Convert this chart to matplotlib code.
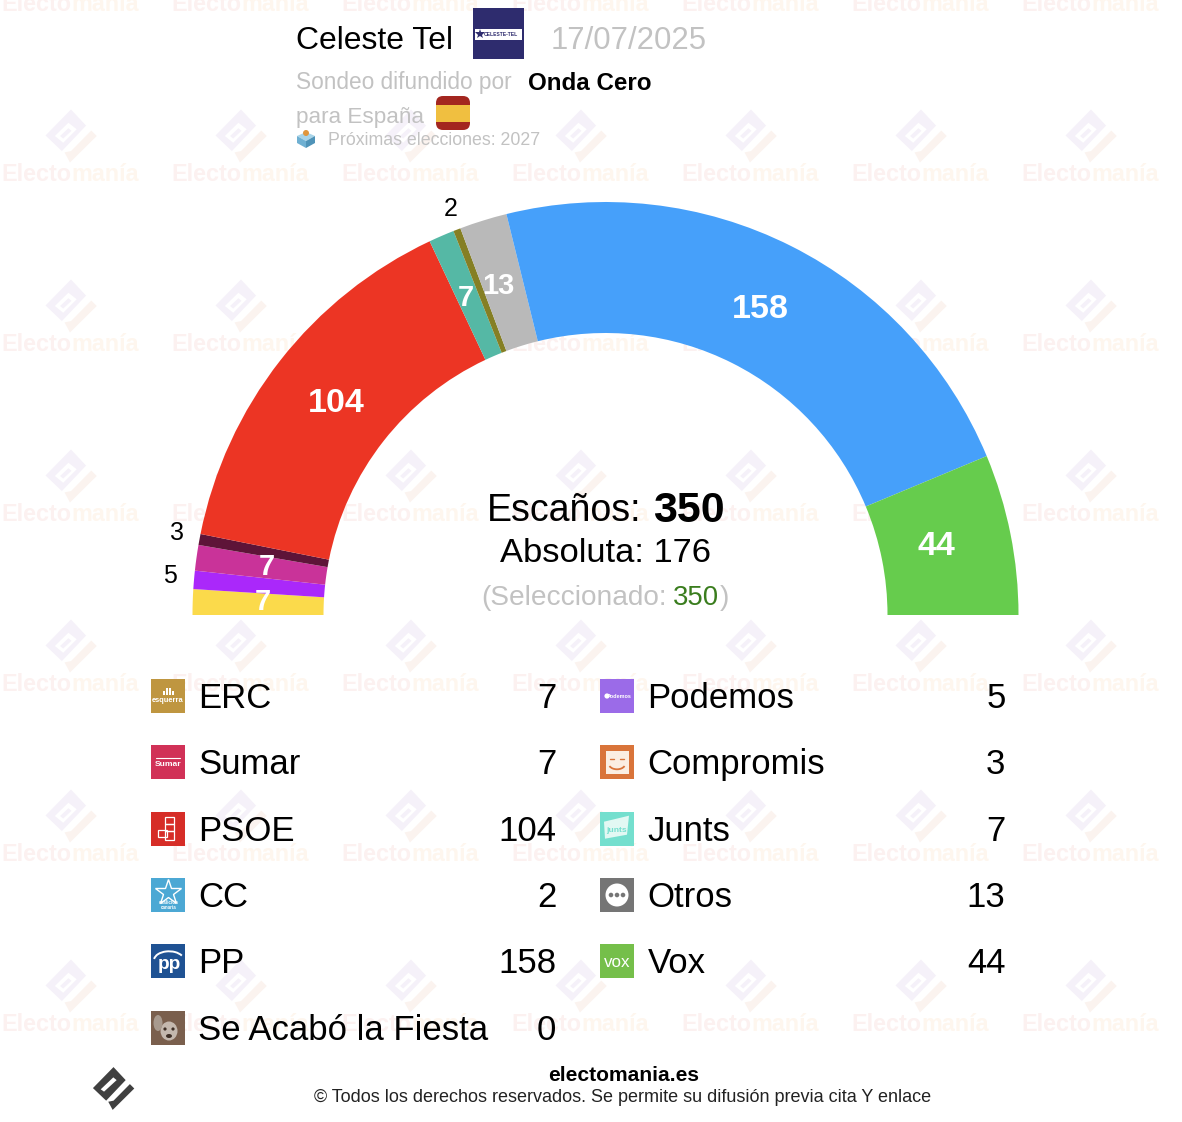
import numpy as np
import matplotlib
matplotlib.use('Agg')
import matplotlib.pyplot as plt
from matplotlib.patches import Polygon, Rectangle, FancyBboxPatch, Circle, Ellipse, Arc

# arc, left to right
arc_parties = ['ERC', 'Podemos', 'Sumar', 'Compromis', 'PSOE', 'Junts', 'CC', 'Otros', 'PP', 'Vox']
arc_seats = [7, 5, 7, 3, 104, 7, 2, 13, 158, 44]
arc_colors = ['#fbda4b', '#aa28fa', '#c93399', '#5e1438', '#ec3524', '#55b8a5', '#857f24', '#b9b9b9', '#46a0fa', '#66cc4d']

# legend columns
left_names = ['ERC', 'Sumar', 'PSOE', 'CC', 'PP', 'Se Acabó la Fiesta']
left_seats = [7, 7, 104, 2, 158, 0]
left_colors = ['#bf9640', '#d13157', '#d62d27', '#4ca8d4', '#1f5293', '#7a5f4d']
right_names = ['Podemos', 'Compromis', 'Junts', 'Otros', 'Vox']
right_seats = [5, 3, 7, 13, 44]
right_colors = ['#9b6be8', '#d9743a', '#74dfce', '#757575', '#75bf4a']

W, H = 1182, 1122
CX, CY = 605.5, 615
R_OUT, R_IN = 413, 282
FONT = 'Liberation Sans'
GREY = '#c2c2c2'

fig = plt.figure(figsize=(W / 100, H / 100), dpi=100)
ax = fig.add_axes([0, 0, 1, 1])


def Y(py):
    return H - py


def label(x, y, s, px, color='black', weight='normal', ha='left', va='baseline', zorder=6):
    return ax.text(x, Y(y), s, fontsize=px * 0.72, color=color, fontweight=weight,
                   ha=ha, va=va, family=FONT, zorder=zorder)


def poly(pts, col, zorder=5):
    ax.add_patch(Polygon([(a, Y(b)) for a, b in pts], closed=True, facecolor=col, edgecolor='none', zorder=zorder))


def logo(cx, cy, size, c1, c2, slot, zorder=1):
    body = [(0, 1.02), (-0.98, 0.02), (-0.35, -0.58), (0.58, 0.40)]
    check = [(-0.25, -0.63), (-0.04, -1.02), (0.99, 0), (0.78, 0.21), (0, -0.58)]
    for pts, col in [(body, c1), (slot, 'white'), (check, c2)]:
        xy = [(cx + size * a, Y(cy) + size * b) for a, b in pts]
        ax.add_patch(Polygon(xy, closed=True, facecolor=col, edgecolor='none', zorder=zorder))


def white_line(xs, ys, lw=1.0):
    ax.plot(xs, [Y(v) for v in ys], color='white', lw=lw, zorder=7, solid_capstyle='round')


def icon_marks(name, x, y):
    # x, y is the middle of the 34 px square
    if name == 'ERC':
        for k, h in zip([-5, -2, 1, 4], [4, 7, 7, 4]):
            ax.add_patch(Rectangle((x + k, Y(y - 1)), 1.8, h, facecolor='white', edgecolor='none', zorder=7))
        label(x, y + 6, 'esquerra', 7.5, color='white', weight='bold', ha='center', zorder=7)
    elif name == 'Sumar':
        white_line([x - 12, x + 12], [y - 4, y - 4], 0.8)
        label(x, y + 4, 'Sumar', 8.5, color='white', weight='bold', ha='center', zorder=7)
    elif name == 'PSOE':
        for dx, dy, w, h in [(-3, -12, 9, 7), (-3, -5, 9, 7), (-10, 1, 9, 7), (-3, 2, 9, 9)]:
            ax.add_patch(Rectangle((x + dx, Y(y + dy + h)), w, h, facecolor='none', edgecolor='white', lw=0.9, zorder=7))
    elif name == 'CC':
        ax.plot([x], [Y(y - 3)], marker='*', ms=19, mfc='none', mec='white', mew=1.0, zorder=7)
        label(x + 1, y + 9, 'coalición', 4.5, color='white', weight='bold', ha='center', zorder=7)
        label(x + 1, y + 14, 'canaria', 4.5, color='white', weight='bold', ha='center', zorder=7)
    elif name == 'PP':
        ax.add_patch(Arc((x + 1, Y(y - 1)), 30, 18, theta1=20, theta2=175, color='white', lw=1.4, zorder=7))
        label(x + 1, y + 8, 'pp', 19, color='white', weight='bold', ha='center', zorder=7)
    elif name == 'Se Acabó la Fiesta':
        ax.add_patch(Ellipse((x + 1, Y(y + 3)), 17, 19, facecolor='#c4b8ae', edgecolor='none', zorder=7))
        ax.add_patch(Ellipse((x - 10, Y(y - 5)), 9, 16, facecolor='#a89a8e', edgecolor='none', zorder=7))
        for dx in [-3, 5]:
            ax.add_patch(Circle((x + dx, Y(y + 1)), 1.6, facecolor='#3e2f26', edgecolor='none', zorder=8))
        ax.add_patch(Ellipse((x + 1, Y(y + 8)), 6, 4, facecolor='#3e2f26', edgecolor='none', zorder=8))
    elif name == 'Podemos':
        ax.add_patch(Circle((x - 10, Y(y)), 2.6, facecolor='white', edgecolor='none', zorder=7))
        label(x + 2, y + 2, 'Podemos', 5.5, color='white', weight='bold', ha='center', zorder=7)
    elif name == 'Compromis':
        ax.add_patch(Rectangle((x - 11.5, Y(y + 11.5)), 23, 23, facecolor='#fbeee2', edgecolor='none', zorder=7))
        for dx in [-5, 5]:
            white_line([x + dx - 2, x + dx + 2], [y - 3, y - 3], 1)
            ax.lines[-1].set_color('#d9743a')
            ax.lines[-1].set_zorder(8)
        ax.add_patch(Arc((x, Y(y + 1)), 17, 12, theta1=200, theta2=340, color='#d9743a', lw=1.3, zorder=8))
    elif name == 'Junts':
        poly([(x - 13, y - 7), (x + 12, y - 13), (x + 10, y + 6), (x - 12, y + 10)], '#e2f8f3', zorder=7)
        label(x - 1, y + 3, 'junts', 8.5, color='#74dfce', weight='bold', ha='center', zorder=8)
    elif name == 'Otros':
        ax.add_patch(Circle((x, Y(y)), 11.5, facecolor='white', edgecolor='none', zorder=7))
        for dx in [-6, 0, 6]:
            ax.add_patch(Circle((x + dx, Y(y)), 2.3, facecolor='#757575', edgecolor='none', zorder=8))
    elif name == 'Vox':
        label(x, y + 6, 'vox', 17, color='white', ha='center', zorder=7)


# watermark grid
wm_slot = [(-0.62, 0), (-0.1, 0.51), (0.22, 0.26), (-0.3, -0.26)]
wm_bar = [(-0.42, 0), (-0.1, 0.3), (0.02, 0.2), (-0.3, -0.1)]
for row in range(-1, 6):
    for col in range(7):
        x0 = 71 + 170 * col
        logo(x0, 136 + 170 * row, 26, '#f5f1f9', '#fbf3ef', wm_slot)
        xy = [(x0 + 26 * a, Y(136 + 170 * row) + 26 * b) for a, b in wm_bar]
        ax.add_patch(Polygon(xy, closed=True, facecolor='#f5f1f9', edgecolor='none', zorder=1))
        label(x0 - 70, 181 + 170 * row, 'Electo', 23.4, color='#fcf1f0', weight='bold', zorder=1)
        label(x0 + 68, 181 + 170 * row, 'manía', 23.4, color='#fef6ee', weight='bold', ha='right', zorder=1)

# hemicycle, the lower half of the pie is an invisible wedge
wedges, _ = ax.pie(arc_seats + [sum(arc_seats)], colors=arc_colors + ['white'],
                   startangle=180, counterclock=False, radius=R_OUT, center=(CX, Y(CY)),
                   wedgeprops=dict(width=R_OUT - R_IN, linewidth=0, zorder=3))
wedges[-1].set_visible(False)

# seat labels along the arc
nudge_x = [5, 0, 5, 1, 4, -2, 2, -4, -2, -10]
nudge_y = [-2, -2, 0, -2, 3, 2, 2, 3, 5, 0]
total = sum(arc_seats)
edges = np.cumsum([0] + arc_seats)
for i, n in enumerate(arc_seats):
    ang = np.pi - np.pi * (edges[i] + n / 2) / total
    if n <= 5:
        r = 437
        kw = dict(px=25, color='black')
    elif n < 20:
        r = 347.5
        kw = dict(px=29, color='white', weight='bold')
    else:
        r = 347.5
        kw = dict(px=34, color='white', weight='bold')
    x = CX + r * np.cos(ang) + nudge_x[i]
    y = CY - r * np.sin(ang) + nudge_y[i]
    label(x, y, str(n), ha='center', va='center', **kw)

# centre block
label(487, 521, 'Escaños:', 37.5)
label(653, 522, '350', 43, weight='bold')
label(605.5, 562, 'Absoluta: 176', 34.5, ha='center')
label(481, 605, '(Seleccionado:', 28, color=GREY)
label(673, 605, '350', 27.5, color='#3a7d1e')
label(720, 605, ')', 28, color=GREY)

# header
label(296, 48.5, 'Celeste Tel', 31.9)
ax.add_patch(Rectangle((473, Y(59)), 51, 51, facecolor='#2e2c6e', edgecolor='none', zorder=5))
ax.add_patch(Rectangle((474.5, Y(39.5)), 47, 11, facecolor='white', edgecolor='none', zorder=5))
ax.plot([480], [Y(34)], marker='*', ms=7, color='#2e2c6e', mew=0, zorder=7)
label(501, 36, 'CELESTE-TEL', 5, color='#2e2c6e', weight='bold', ha='center', zorder=7)
label(551, 48.5, '17/07/2025', 31.1, color=GREY)
label(296, 88.5, 'Sondeo difundido por', 22.6, color=GREY)
label(528, 90, 'Onda Cero', 24.1, weight='bold')
label(296, 123, 'para España', 22.5, color=GREY)
ax.add_patch(FancyBboxPatch((436 + 5, Y(130) + 5), 24, 24, boxstyle='round,pad=5,rounding_size=7',
                            facecolor='#a3261f', edgecolor='none', zorder=5))
ax.add_patch(Rectangle((436, Y(121.5)), 34, 17, facecolor='#f0bf40', edgecolor='none', zorder=5))
label(328, 145, 'Próximas elecciones: 2027', 17.7, color=GREY)
# ballot box
poly([(297, 136), (306, 132), (315, 136), (306, 141)], '#a8d4e8')
poly([(297, 136), (306, 141), (306, 148), (297, 143)], '#6fb0d2')
poly([(306, 141), (315, 136), (315, 143), (306, 148)], '#4f93b8')
ax.add_patch(Circle((306, Y(133)), 3, facecolor='#e0963c', edgecolor='none', zorder=5))

# legend
row_ys = [696, 762.3, 828.7, 895, 961.3, 1028]
cols = [(151, 198.5, 556.5, left_names, left_seats, left_colors),
        (600, 647.5, 1005.5, right_names, right_seats, right_colors)]
for ix, tx, nx, names, seats, colors in cols:
    for yy, name, n, col in zip(row_ys, names, seats, colors):
        ax.add_patch(Rectangle((ix, Y(yy + 17)), 34, 34, facecolor=col, edgecolor='none', zorder=5))
        icon_marks(name, ix + 17, yy)
        label(tx, yy + 12, name, 34.8)
        label(nx, yy + 12, str(n), 34.8, ha='right')

# footer
foot_slot = [(-0.61, -0.04), (-0.01, 0.53), (0.15, 0.40), (-0.45, -0.15)]
logo(113.5, 1088.5, 21, '#404040', '#404040', foot_slot, zorder=5)
label(624, 1081, 'electomania.es', 21, weight='bold', ha='center')
label(623, 1102, '© Todos los derechos reservados. Se permite su difusión previa cita Y enlace', 17.95, color='#222222', ha='center')

ax.set_xlim(0, W)
ax.set_ylim(0, H)
ax.set_aspect('auto')
ax.axis('off')
fig.savefig('out.png', dpi=100, facecolor='white')
